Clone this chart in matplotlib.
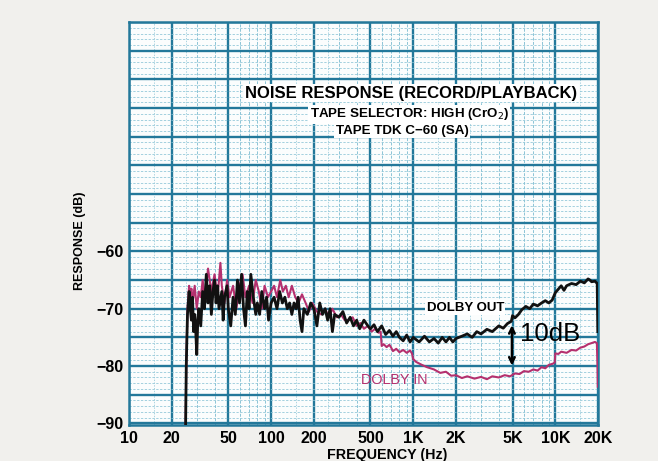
import numpy as np
import matplotlib
matplotlib.use('Agg')
import matplotlib.pyplot as plt

# Dolby OUT (negro)
f_out = [25, 25.3, 25.8, 26.5, 27, 27.5, 28, 28.5, 29, 29.5, 30, 30.5, 31, 32, 33, 34, 35, 36, 37, 38,
         39, 40, 41, 42, 43, 45, 46, 47, 49, 50, 52, 54, 56, 58, 60, 62, 64, 66, 68, 70,
         72, 75, 78, 80, 83, 86, 90, 93, 96, 100, 105, 110, 115, 120, 125, 130, 135, 140, 145, 150,
         155, 160, 165, 170, 180, 190, 200, 210, 220, 230, 240, 250, 260, 270, 280, 300, 320, 340, 360, 380,
         400, 420, 450, 480, 500, 530, 560, 600, 640, 680, 720, 760, 800, 850, 900, 950, 1000, 1100, 1200, 1300,
         1400, 1500, 1600, 1700, 1800, 1900, 2000, 2200, 2400, 2600, 2800, 3000, 3300, 3600, 4000, 4300, 4600, 4900, 5000, 5200,
         5500, 5800, 6200, 6600, 7000, 7500, 8000, 8500, 9000, 9500, 10000, 10500, 11000, 11500, 12000, 13000, 14000, 15000, 16000, 17000,
         17500, 18000, 19000, 19700, 19800, 19900]
db_out = [-92, -80, -71, -67, -70, -72, -68, -74, -71, -74, -78, -72, -70, -73, -67, -70, -64, -69, -66, -71,
          -67, -65, -69, -66, -70, -67, -72, -68, -66, -70, -73, -68, -71, -65, -69, -64, -70, -73, -67, -70,
          -64, -68, -71, -69, -71, -67, -70, -68, -72, -69, -68, -70, -67, -69, -68, -70, -69, -71, -69, -70,
          -68, -72, -74, -70, -71, -69, -70, -73, -69, -71, -70, -72, -70, -74, -71, -71.5, -70.5, -72.5, -71.5, -73,
          -72, -73.5, -72, -73, -73.5, -72.8, -74, -73, -74.5, -73.8, -74.8, -74, -75, -75.6, -74.6, -75.8, -75, -75.8, -74.8, -75.8,
          -75.2, -76, -75, -75.8, -75, -75.8, -75.2, -74.8, -74.4, -75, -74, -74.4, -73.6, -74, -73, -73.4, -72.6, -72.2, -71.2, -71.6,
          -71, -70.2, -69.6, -70, -69.2, -69.5, -69, -68.6, -69, -68.5, -67.2, -66.6, -66, -66.8, -66, -65.6, -65.8, -65.2, -65.5, -64.8,
          -65, -65.3, -65.2, -65.6, -70, -74]

# Dolby IN (magenta)
f_in = [25, 25.3, 25.8, 26.5, 27, 27.5, 28, 29, 30, 31, 32, 33, 34, 35, 36, 38, 40, 42, 44, 45,
        47, 49, 51, 54, 57, 60, 63, 66, 70, 74, 78, 82, 86, 90, 95, 100, 105, 110, 116, 121,
        127, 133, 140, 148, 156, 165, 175, 185, 195, 210, 225, 240, 255, 270, 290, 310, 330, 350, 375, 400,
        425, 450, 480, 510, 540, 570, 590, 600, 620, 650, 680, 700, 720, 760, 800, 850, 900, 950, 980, 1000,
        1050, 1150, 1250, 1400, 1550, 1700, 1850, 2000, 2200, 2400, 2700, 3000, 3300, 3600, 4000, 4400, 4800, 5200, 5600, 6000,
        6500, 7000, 7500, 8000, 8500, 9000, 9600, 9900, 10000, 10500, 11000, 12000, 13000, 14000, 15000, 16000, 17000, 18000, 19000, 19600,
        19800, 19900]
db_in = [-92, -80, -70, -66, -68, -66.5, -69, -66, -70, -67, -68, -65, -68, -66, -63, -67, -64, -68, -62, -66,
         -69, -65, -68, -66, -70, -66, -64, -68, -66, -69, -65, -67, -70, -66, -68, -67, -66, -68, -65, -67,
         -66, -68, -66, -68, -69, -67.5, -69, -70.5, -69, -70.5, -71, -70, -71.5, -70, -71.5, -71, -72, -72, -71.5, -73,
         -72.5, -73.5, -73, -74, -73.5, -74.2, -74, -76.5, -76.2, -76.7, -76.3, -76.8, -77.4, -77, -77.6, -77.2, -77.7, -77.3, -77.8, -78.8,
         -79.3, -79.8, -80.2, -80.6, -81.2, -81, -81.7, -81.6, -82.1, -81.8, -82.2, -81.9, -82.3, -81.8, -82, -81.6, -81.8, -81.3, -81.4, -80.9,
         -81, -80.6, -80.8, -80.2, -80.4, -79.8, -79.6, -79.4, -77.8, -77.9, -77.5, -77.7, -77.2, -77.3, -76.8, -76.6, -76.2, -76, -75.8, -76,
         -80, -83.6]

y_ticks = [-60, -70, -80, -90]
y_tick_labels = ['\u221260', '\u221270', '\u221280', '\u221290']
x_ticks = [10, 20, 50, 100, 200, 500, 1000, 2000, 5000, 10000, 20000]
x_tick_labels = ['10', '20', '50', '100', '200', '500', '1K', '2K', '5K', '10K', '20K']

plt.rcParams['font.family'] = ['Liberation Sans', 'DejaVu Sans']

color_grid = '#23789a'
color_minor = '#8cc4d6'
color_in = '#b5306e'

fig = plt.figure(figsize=(6.58, 4.61), dpi=100)
fig.patch.set_facecolor('#f1f0ed')
ax = fig.add_axes([0.196, 0.078, 0.713, 0.874])
ax.set_facecolor('#fbfdfd')
ax.set_xscale('log')
ax.set_xlim(10, 20000)
ax.set_ylim(-90.3, -20)

# cuadricula estilo papel milimetrado
for d in [10, 100, 1000, 10000]:
    for k in range(1, 10):
        f = d * k
        if f > 20000:
            continue
        if k in (1, 2, 5):
            ax.axvline(f, color=color_grid, lw=1.7, zorder=1)
        else:
            ax.axvline(f, color=color_minor, lw=0.7, ls=(0, (3, 1.5)), zorder=1)
        if k in (1, 2):
            ax.axvline(d * (k + 0.5), color=color_minor, lw=0.5, ls=(0, (2, 2)), zorder=1)
for y in np.arange(-90, -19, 1.0):
    if y % 5 == 0:
        ax.axhline(y, color=color_grid, lw=1.7, zorder=1)
    else:
        ax.axhline(y, color=color_minor, lw=0.55, ls=(0, (3, 2)), zorder=1)

ax.plot(f_in, db_in, color=color_in, lw=1.5, zorder=3)
ax.plot(f_out, db_out, color='#111111', lw=2.0, zorder=4)

ax.set_xticks(x_ticks)
ax.set_xticklabels(x_tick_labels, fontsize=11.5, fontweight='bold')
ax.set_xticks([], minor=True)
ax.set_yticks(y_ticks)
ax.set_yticklabels(y_tick_labels, fontsize=11.5, fontweight='bold')
ax.tick_params(length=0, pad=4)
for sp in ax.spines.values():
    sp.set_color(color_grid)
    sp.set_linewidth(1.8)

box = dict(facecolor='white', edgecolor='none', pad=1.0)
fig.text(0.625, 0.798, 'NOISE RESPONSE (RECORD/PLAYBACK)',
         ha='center', va='center', fontsize=12, fontweight='bold', bbox=box, zorder=5)
fig.text(0.622, 0.752, 'TAPE SELECTOR: HIGH (CrO$_2$)',
         ha='center', va='center', fontsize=9.6, fontweight='bold', bbox=box, zorder=5)
fig.text(0.611, 0.716, 'TAPE TDK C\u221260 (SA)',
         ha='center', va='center', fontsize=9.6, fontweight='bold', bbox=box, zorder=5)

ax.text(2325, -69.8, 'DOLBY OUT', ha='center', va='center', fontsize=9.5,
        fontweight='bold', bbox=box, zorder=5)
ax.text(735, -82.4, 'DOLBY IN', ha='center', va='center', fontsize=10.4,
        color=color_in, zorder=5)
ax.text(5650, -74.4, '10dB', ha='left', va='center', fontsize=18.5, zorder=5)
ax.annotate('', xy=(4950, -72.4), xytext=(4950, -80.4),
            arrowprops=dict(arrowstyle='<->', color='black', lw=1.8), zorder=5)

fig.text(0.122, 0.477, 'RESPONSE (dB)', rotation=90, ha='center', va='center',
         fontsize=9, fontweight='bold')
fig.text(0.588, 0.012, 'FREQUENCY (Hz)', ha='center', va='center',
         fontsize=10.3, fontweight='bold')

fig.savefig('out.png', dpi=100, facecolor=fig.get_facecolor())
